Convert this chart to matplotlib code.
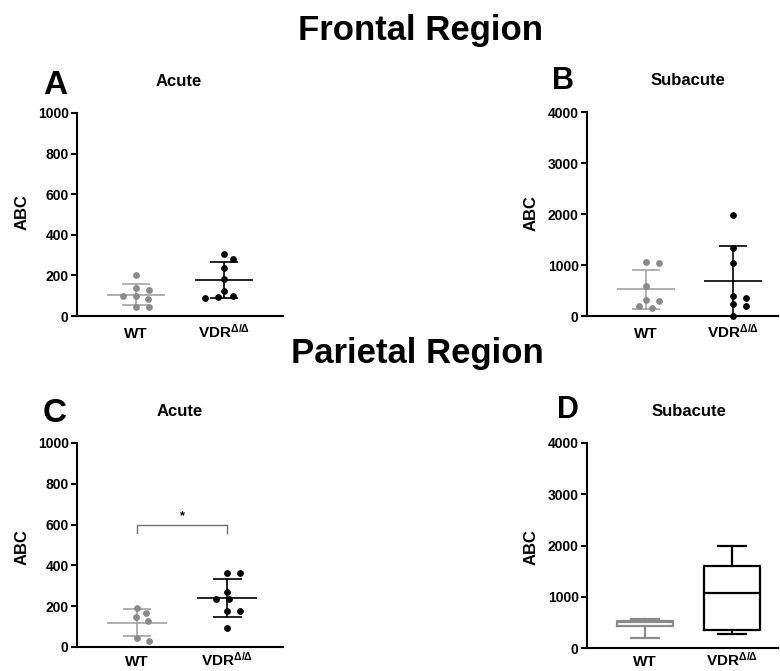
import numpy as np
import matplotlib
matplotlib.use('Agg')
import matplotlib.pyplot as plt

plt.rcParams['font.family'] = ['Liberation Sans', 'DejaVu Sans']
plt.rcParams['mathtext.fontset'] = 'custom'
plt.rcParams['mathtext.rm'] = 'Liberation Sans'
plt.rcParams['mathtext.it'] = 'Liberation Sans:italic'
plt.rcParams['mathtext.bf'] = 'Liberation Sans:bold'

# ---------------- data ----------------
groups = ['WT', 'VDR$^{\\mathregular{Δ/Δ}}$']

frontal_acute_wt = [202, 98, 85, 98, 128, 136, 46, 46]
frontal_acute_vdr = [305, 280, 238, 182, 125, 98, 95, 90]
frontal_subacute_wt = [1031, 1064, 587, 313, 300, 196, 150]
frontal_subacute_vdr = [1971, 1338, 1044, 392, 359, 228, 196, 0]
parietal_acute_wt = [193, 168, 146, 129, 46, 29]
parietal_acute_vdr = [363, 363, 271, 237, 237, 178, 178, 93]

box_keys = ['whislo', 'q1', 'med', 'q3', 'whishi']
parietal_subacute_wt = [200, 425, 510, 525, 570]
parietal_subacute_vdr = [270, 360, 1080, 1600, 2000]

acute_ticks = [0, 200, 400, 600, 800, 1000]
subacute_ticks = [0, 1000, 2000, 3000, 4000]

WT_DOT = '#8a8a8a'
WT_LINE = '#a3a3a3'
VDR_DOT = '#000000'

W, H = 780, 671
fig = plt.figure(figsize=(W / 100, H / 100), dpi=100)


def add_ax(left, right, top, bottom):
    return fig.add_axes([left / W, 1 - bottom / H, (right - left) / W, (bottom - top) / H])


def style(ax, ticks, xlim, xpad):
    ax.set_ylim(0, ticks[-1])
    ax.set_xlim(*xlim)
    ax.set_yticks(ticks)
    ax.set_xticks([0, 1])
    ax.set_xticklabels(groups)
    for s in ['top', 'right']:
        ax.spines[s].set_visible(False)
    for s in ['left', 'bottom']:
        ax.spines[s].set_linewidth(1.5)
    ax.tick_params(axis='y', length=4, width=1.5, pad=2, labelsize=10)
    ax.tick_params(axis='x', length=0, pad=xpad, labelsize=11)
    for lab in ax.get_yticklabels():
        lab.set_fontweight('bold')
    for lab in ax.get_xticklabels():
        lab.set_fontweight('bold')
        lab.set_verticalalignment('baseline')


def swarm_x(ax, center, values, sx=13.0, sy=7.0):
    vals = np.asarray(values, dtype=float)
    pts = ax.transData.transform(np.column_stack([np.full(len(vals), center), vals]))
    ypix = pts[:, 1]
    ppu = ax.transData.transform((1, 0))[0] - ax.transData.transform((0, 0))[0]
    placed = []
    xs = np.zeros(len(vals))
    for i in np.argsort(-vals, kind='stable'):
        best = None
        for step in range(0, 400):
            for sgn in ([1] if step == 0 else [1, -1]):
                off = sgn * step * 0.5
                if all(((off - px) / sx) ** 2 + ((ypix[i] - py) / sy) ** 2 >= 1
                       for px, py in placed):
                    best = off
                    break
            if best is not None:
                break
        placed.append((best, ypix[i]))
        xs[i] = center + best / ppu
    return xs


def dot_group(ax, pos, values, dot_color, line_color):
    xs = swarm_x(ax, pos, values)
    ax.scatter(xs, values, s=24, color=dot_color, linewidths=0, zorder=3, clip_on=False)
    m = np.mean(values)
    sd = np.std(values, ddof=1)
    ax.hlines(m, pos - 0.33, pos + 0.33, color=line_color, lw=1.2, zorder=2)
    ax.hlines([m - sd, m + sd], pos - 0.16, pos + 0.16, color=line_color, lw=1.2, zorder=2)
    ax.vlines(pos, max(m - sd, 0), m + sd, color=line_color, lw=1.2, zorder=2)


# ---------------- Panel A ----------------
axA = add_ax(77, 283, 113, 316)
style(axA, acute_ticks, (-0.67, 1.67), 15.8)
dot_group(axA, 0, frontal_acute_wt, WT_DOT, WT_LINE)
dot_group(axA, 1, frontal_acute_vdr, VDR_DOT, VDR_DOT)

# ---------------- Panel B ----------------
axB = add_ax(587, 778, 112, 316)
style(axB, subacute_ticks, (-0.68, 1.52), 15.8)
dot_group(axB, 0, frontal_subacute_wt, WT_DOT, WT_LINE)
dot_group(axB, 1, frontal_subacute_vdr, VDR_DOT, VDR_DOT)

# ---------------- Panel C ----------------
axC = add_ax(77, 283, 443, 647)
style(axC, acute_ticks, (-0.667, 1.62), 13.6)
dot_group(axC, 0, parietal_acute_wt, WT_DOT, WT_LINE)
dot_group(axC, 1, parietal_acute_vdr, VDR_DOT, VDR_DOT)
axC.plot([0, 0, 1, 1], [560, 600, 600, 560], color='#707070', lw=1.0)
axC.text(0.5, 610, '*', ha='center', va='bottom', fontsize=9, fontweight='bold')

# ---------------- Panel D ----------------
axD = add_ax(587, 778, 443, 648)
style(axD, subacute_ticks, (-0.667, 1.53), 13.0)
for pos, vals, col in [(0, parietal_subacute_wt, WT_DOT), (1, parietal_subacute_vdr, VDR_DOT)]:
    stats = dict(zip(box_keys, vals))
    stats['fliers'] = []
    props = dict(color=col, linewidth=1.6)
    axD.bxp([stats], positions=[pos], widths=0.65, capwidths=0.33, showfliers=False,
            boxprops=props, whiskerprops=props, capprops=props, medianprops=props,
            manage_ticks=False)

# ---------------- texts ----------------
def ftext(x, y, s, **kw):
    fig.text(x / W, 1 - y / H, s, **kw)

ftext(421, 40, 'Frontal Region', ha='center', va='baseline', fontsize=25, fontweight='bold')
ftext(417, 363, 'Parietal Region', ha='center', va='baseline', fontsize=25, fontweight='bold')

ftext(179, 86, 'Acute', ha='center', va='baseline', fontsize=12, fontweight='bold')
ftext(688, 85, 'Subacute', ha='center', va='baseline', fontsize=12, fontweight='bold')
ftext(180, 416, 'Acute', ha='center', va='baseline', fontsize=12, fontweight='bold')
ftext(689, 416, 'Subacute', ha='center', va='baseline', fontsize=12, fontweight='bold')

ftext(43, 94, 'A', ha='left', va='baseline', fontsize=24, fontweight='bold')
ftext(552, 89, 'B', ha='left', va='baseline', fontsize=22, fontweight='bold')
ftext(43, 422, 'C', ha='left', va='baseline', fontsize=24, fontweight='bold')
ftext(557, 418, 'D', ha='left', va='baseline', fontsize=22, fontweight='bold')

for x, y in [(22.5, 212), (531, 213), (22.5, 547), (531, 547)]:
    ftext(x, y, 'ABC', ha='center', va='center', rotation=90, fontsize=12, fontweight='bold')

fig.savefig('out.png', dpi=100)
